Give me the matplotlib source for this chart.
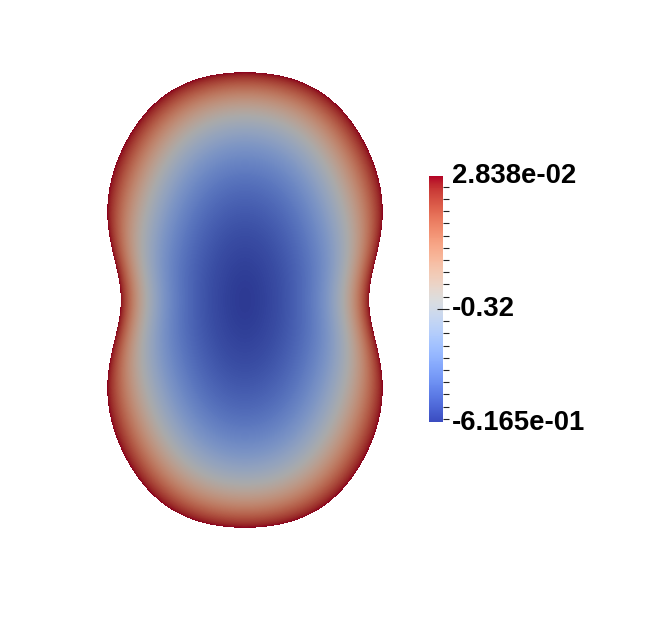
import numpy as np
import matplotlib
matplotlib.use('Agg')
import matplotlib.pyplot as plt
from matplotlib import cm, colors, transforms

# scalar range shown on the colour bar
v_min = -6.165e-01
v_max = 2.838e-02
v_mid = -0.32
label_texts = ['2.838e-02', '-0.32', '-6.165e-01']
label_values = [v_max, v_mid, v_min]
minor_step = 0.032

# outline of the peanut shape:
# angle from the vertical axis (deg) and radius (px) from the centre
outline_angle = [0, 7, 10, 16, 19, 26, 30, 35, 38, 44, 45, 52, 54, 59, 62, 68, 73, 77, 84, 90]
outline_radius = [228, 227, 227.5, 223, 223.5, 215, 208, 203, 196, 186, 185, 174, 169, 161,
                  155, 144, 136, 132, 126, 124]
centre = (245, 300)
inner_axes = (135, 265)   # inner contours are closer to ellipses
shade = 0.77    # surface lighting darkens the colours

# smooth outline: even cosine series through the readings
th = np.radians(outline_angle)
basis = lambda t: np.stack([np.cos(2 * n * t) for n in range(6)], axis=-1)
coef, *_ = np.linalg.lstsq(basis(th), np.array(outline_radius, float), rcond=None)

W, H = 648, 628
fig = plt.figure(figsize=(W / 100, H / 100), dpi=100)
ax = fig.add_axes([0, 0, 1, 1])
ax.set_xlim(0, W)
ax.set_ylim(H, 0)
ax.axis('off')

# field on the shape
xx, yy = np.meshgrid(np.arange(W) + 0.5, np.arange(H) + 0.5)
dx = xx - centre[0]
dy = yy - centre[1]
r = np.hypot(dx, dy)
ang = np.arctan2(np.abs(dx), np.abs(dy))
rb = basis(ang) @ coef
rho_out = r / rb
rho_in = np.hypot(dx / inner_axes[0], dy / inner_axes[1])
w = np.clip(rho_out, 0, 1) ** 2
rho = np.clip((1 - w) * rho_in + w * rho_out, 0, 1)
frac = 0.5 * rho ** 1.6 + 0.5 * rho ** 4
field = v_min + (v_max - v_min) * frac

norm = colors.Normalize(v_min, v_max)
rgba = plt.get_cmap('coolwarm')(norm(field))
rgba[..., :3] *= shade
rgba[..., 3] = (rho_out <= 1).astype(float)
ax.imshow(rgba, extent=(0, W, H, 0), interpolation='nearest', aspect='auto')

# colour bar
cax = fig.add_axes([429 / W, 1 - 422 / H, 14 / W, 246 / H])
sm = cm.ScalarMappable(norm=norm, cmap='coolwarm')
cb = fig.colorbar(sm, cax=cax)
cb.outline.set_visible(False)

k = np.arange(-30, 31)
minor = v_mid + minor_step * k
minor = minor[(minor >= v_min) & (minor <= v_max) & (k != 0)]
cax.yaxis.set_ticks([v_mid])
cax.yaxis.set_ticks(minor, minor=True)
cax.set_yticklabels([])
cax.tick_params(which='minor', length=4, width=0.8, color='#222222', direction='out')
cax.tick_params(which='major', length=8, width=0.8, color='#222222', direction='inout')

trans = transforms.blended_transform_factory(cax.transAxes, cax.transData)
trans = transforms.offset_copy(trans, fig=fig, x=9, y=-7.5, units='dots')
for val, txt in zip(label_values, label_texts):
    cax.text(1.0, val, txt, transform=trans, ha='left', va='baseline',
             fontsize=19.8, fontweight='bold', family='Liberation Sans',
             color='black')

plt.savefig('out.png', dpi=100)
